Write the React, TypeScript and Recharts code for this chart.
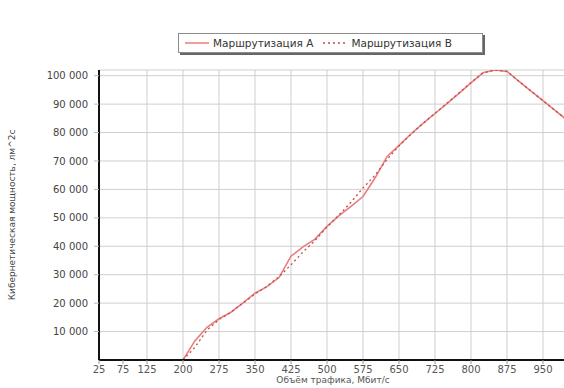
import { CartesianGrid, Line, LineChart, XAxis, YAxis } from "recharts";

// Load (x) and power readings for the two routing variants
const loadPoints = [
  200, 225, 250, 275, 300, 325, 350, 375, 400, 425, 450, 475, 500, 525, 550,
  575, 600, 625, 650, 675, 700, 725, 750, 775, 800, 825, 850, 875, 900, 925,
  950, 975, 1000,
];
const routingA = [
  0, 6800, 11500, 14500, 16800, 20100, 23500, 25800, 29000, 36500, 39800,
  42500, 47000, 50800, 54000, 57500, 64000, 71500, 75500, 79500, 83200, 86700,
  90200, 93800, 97500, 101000, 102000, 101500, 98000, 94600, 91200, 87800,
  84400,
];
const routingB = [
  0, 4500, 10500, 14200, 16800, 20000, 23200, 25900, 29300, 33500, 38000,
  42000, 46800, 51000, 55500, 60500, 65000, 70500, 75300, 79400, 83200, 86800,
  90300, 93900, 97600, 101000, 102000, 101500, 98000, 94600, 91200, 87800,
  84400,
];
const xTicks = [25, 75, 125, 200, 275, 350, 425, 500, 575, 650, 725, 800, 875, 950];
const yTicks = [10000, 20000, 30000, 40000, 50000, 60000, 70000, 80000, 90000, 100000];

const seriesNames = ["Маршрутизация A", "Маршрутизация B"];
const colorA = "#ec7c7c";
const colorB = "#b8504c";

const chartData = loadPoints.map((x, i) => ({
  x,
  a: routingA[i],
  b: routingB[i],
}));

const fontFamily = "'DejaVu Sans', sans-serif";

const formatThousands = (v: number) =>
  String(v).replace(/\B(?=(\d{3})+(?!\d))/g, " ");

function LegendBox() {
  return (
    <div
      style={{
        position: "absolute",
        left: 178,
        top: 33,
        width: 303,
        height: 18,
        border: "1px solid #8c8c8c",
        boxShadow: "2px 2px 0 #666",
        background: "#fff",
        display: "flex",
        alignItems: "center",
        fontFamily,
        fontSize: 10.5,
        color: "#333",
        whiteSpace: "nowrap",
      }}
    >
      <svg width={30} height={10} style={{ marginLeft: 4 }}>
        <line x1={2} y1={5} x2={26} y2={5} stroke={colorA} strokeWidth={1.5} />
      </svg>
      <span>{seriesNames[0]}</span>
      <svg width={30} height={10} style={{ marginLeft: 8 }}>
        <line
          x1={2}
          y1={5}
          x2={26}
          y2={5}
          stroke={colorB}
          strokeWidth={1.3}
          strokeDasharray="2 3"
        />
      </svg>
      <span>{seriesNames[1]}</span>
    </div>
  );
}

export default function App() {
  return (
    <div
      style={{
        position: "absolute",
        left: 0,
        top: 0,
        width: 564,
        height: 388,
        overflow: "hidden",
        background: "#fff",
      }}
    >
      <LineChart
        width={580}
        height={388}
        data={chartData}
        margin={{ top: 70, right: 13, bottom: 12, left: 0 }}
      >
        <CartesianGrid stroke="#cfcfcf" strokeWidth={1} />
        <XAxis
          dataKey="x"
          type="number"
          domain={[25, 1000]}
          ticks={xTicks}
          allowDataOverflow
          height={16}
          tickSize={4}
          tickMargin={2}
          stroke="#111"
          axisLine={{ stroke: "#111", strokeWidth: 2 }}
          tickLine={{ stroke: "#999" }}
          tick={{ fontSize: 10, fill: "#555", fontFamily }}
          label={{
            value: "Объём трафика, Мбит/с",
            position: "bottom",
            offset: 1,
            fontSize: 9,
            fill: "#555",
            fontFamily,
          }}
        />
        <XAxis
          xAxisId="top"
          orientation="top"
          type="number"
          domain={[25, 1000]}
          height={0}
          tick={false}
          tickLine={false}
          axisLine={{ stroke: "#9a9a9a", strokeWidth: 2 }}
        />
        <YAxis
          type="number"
          domain={[0, 102000]}
          ticks={yTicks}
          allowDataOverflow
          width={99}
          tickSize={5}
          tickMargin={6}
          axisLine={{ stroke: "#111", strokeWidth: 2 }}
          tickLine={{ stroke: "#bbb" }}
          tickFormatter={(v) => formatThousands(Number(v))}
          tick={{ fontSize: 10, fill: "#444", fontFamily }}
          label={{
            value: "Кибернетическая мощность, лм^2с",
            angle: -90,
            position: "insideLeft",
            offset: 12,
            fontSize: 9,
            fill: "#444",
            fontFamily,
            style: { textAnchor: "middle" },
          }}
        />
        <Line
          type="linear"
          dataKey="a"
          name={seriesNames[0]}
          stroke={colorA}
          strokeWidth={1.6}
          dot={false}
          isAnimationActive={false}
        />
        <Line
          type="linear"
          dataKey="b"
          name={seriesNames[1]}
          stroke={colorB}
          strokeWidth={1.3}
          strokeDasharray="2 3"
          dot={false}
          isAnimationActive={false}
        />
      </LineChart>
      <LegendBox />
    </div>
  );
}
